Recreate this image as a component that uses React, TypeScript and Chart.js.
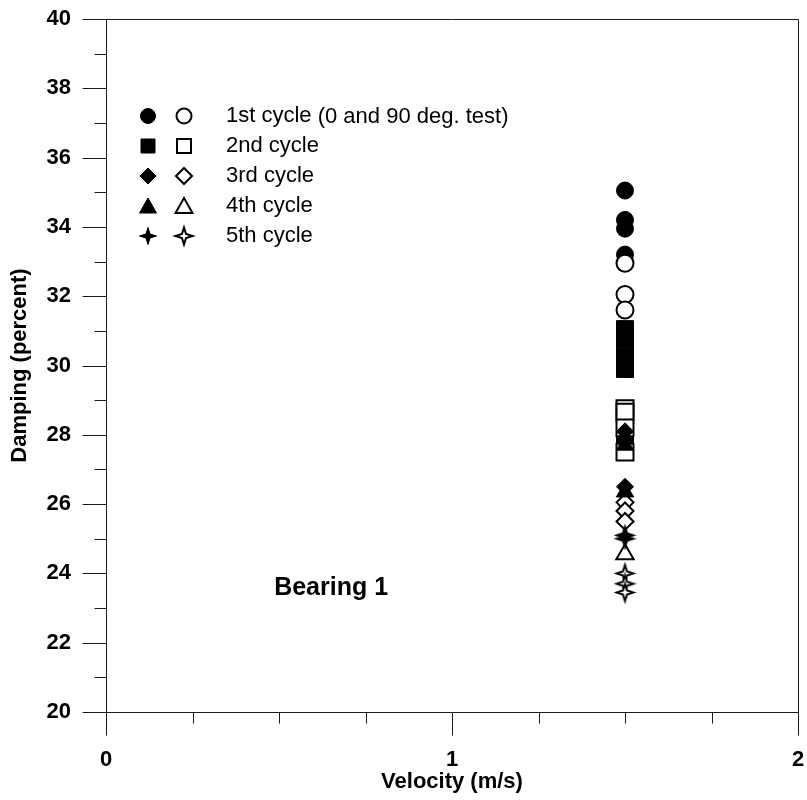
import { useEffect, useRef } from "react";
import { Chart, registerables } from "chart.js";

Chart.register(...registerables);

// All tests were run at a single velocity
const VELOCITY = 1.5;

// Damping (percent) per cycle: filled = 0 deg. test, open = 90 deg. test
const cycle1Filled = [35.05, 34.2, 33.95, 33.2];
const cycle1Open = [32.95, 32.05, 31.6];
const cycle2Filled = [31.05, 30.75, 30.25, 29.9, 28.45, 28.05, 27.8, 27.6];
const cycle2Open = [28.75, 28.65, 28.2, 27.5];
const cycle3Filled = [28.1, 26.5];
const cycle3Open = [26.05, 25.8, 25.5];
const cycle4Filled = [27.7, 26.35];
const cycle4Open = [24.55];
const cycle5Filled = [25.1, 25.0];
const cycle5Open = [24.0, 23.7, 23.45];

const legendLabels = ["1st cycle", "2nd cycle", "3rd cycle", "4th cycle", "5th cycle"];
const legendNote = "(0 and 90 deg. test)";
const bearingLabel = "Bearing 1";
const xTitle = "Velocity (m/s)";
const yTitle = "Damping (percent)";

const FONT = "'Liberation Sans', Arial, Helvetica, sans-serif";
const PLOT_RIGHT_GAP = 9;

type Shape = "circle" | "square" | "diamond" | "triangle" | "star";
const shapes: Shape[] = ["circle", "square", "diamond", "triangle", "star"];

function starPath(ctx: CanvasRenderingContext2D, x: number, y: number, r: number) {
  const k = r * 0.24;
  ctx.beginPath();
  ctx.moveTo(x, y - r);
  ctx.lineTo(x + k, y - k);
  ctx.lineTo(x + r, y);
  ctx.lineTo(x + k, y + k);
  ctx.lineTo(x, y + r);
  ctx.lineTo(x - k, y + k);
  ctx.lineTo(x - r, y);
  ctx.lineTo(x - k, y - k);
  ctx.closePath();
}

function makeStar(r: number, filled: boolean): HTMLCanvasElement {
  const c = document.createElement("canvas");
  const s = Math.ceil(r * 2 + 6);
  c.width = s;
  c.height = s;
  const ctx = c.getContext("2d")!;
  starPath(ctx, s / 2, s / 2, r);
  ctx.fillStyle = filled ? "#000" : "#fff";
  ctx.fill();
  ctx.lineWidth = 2;
  ctx.strokeStyle = "#000";
  ctx.lineJoin = "miter";
  ctx.stroke();
  return c;
}

function drawMarker(
  ctx: CanvasRenderingContext2D,
  shape: Shape,
  x: number,
  y: number,
  filled: boolean
) {
  ctx.save();
  ctx.fillStyle = filled ? "#000" : "#fff";
  ctx.strokeStyle = "#000";
  ctx.lineWidth = filled ? 1 : 2;
  ctx.beginPath();
  if (shape === "circle") {
    ctx.arc(x, y, 7.5, 0, Math.PI * 2);
  } else if (shape === "square") {
    ctx.rect(x - 7, y - 7, 14, 14);
  } else if (shape === "diamond") {
    ctx.moveTo(x, y - 8);
    ctx.lineTo(x + 8, y);
    ctx.lineTo(x, y + 8);
    ctx.lineTo(x - 8, y);
    ctx.closePath();
  } else if (shape === "triangle") {
    ctx.moveTo(x, y - 8);
    ctx.lineTo(x + 8.5, y + 7);
    ctx.lineTo(x - 8.5, y + 7);
    ctx.closePath();
  } else {
    starPath(ctx, x, y, 8.5);
  }
  ctx.fill();
  ctx.stroke();
  ctx.restore();
}

const axisFramePlugin = {
  id: "axisFrame",
  // keep the plot frame flush with the right edge gap
  afterLayout(chart: any) {
    const xs = chart.scales.x;
    const target = chart.width - PLOT_RIGHT_GAP;
    if (Math.abs(xs.right - target) > 0.5) {
      xs.right = target;
      xs.width = target - xs.left;
      chart.chartArea.right = target;
      chart.chartArea.width = target - chart.chartArea.left;
      xs.configure();
    }
  },
  afterDraw(chart: any) {
    const { ctx, chartArea, scales } = chart;
    const { left, right, top, bottom } = chartArea;
    const xs = scales.x;
    const ys = scales.y;
    ctx.save();
    ctx.strokeStyle = "#1a1a1a";
    ctx.lineWidth = 1;
    const px = (v: number) => Math.round(v) + 0.5;
    ctx.beginPath();
    ctx.rect(px(left), px(top), Math.round(right - left), Math.round(bottom - top));
    // y ticks: major every 2, minor every 1
    for (let v = 20; v <= 40; v += 1) {
      const y = px(ys.getPixelForValue(v));
      const len = v % 2 === 0 ? 24 : 12;
      ctx.moveTo(px(left) - len, y);
      ctx.lineTo(px(left), y);
    }
    // x ticks: major every 1, minor every 0.25
    for (let i = 0; i <= 8; i++) {
      const v = i * 0.25;
      const x = px(xs.getPixelForValue(v));
      const len = i % 4 === 0 ? 23 : 11;
      ctx.moveTo(x, px(bottom));
      ctx.lineTo(x, px(bottom) + len);
    }
    ctx.stroke();

    // legend
    const rows = [116, 146, 176, 206, 236];
    ctx.textBaseline = "middle";
    ctx.textAlign = "left";
    ctx.fillStyle = "#000";
    rows.forEach((ry, i) => {
      drawMarker(ctx, shapes[i], 148, ry, true);
      drawMarker(ctx, shapes[i], 184, ry, false);
      ctx.font = `22px ${FONT}`;
      ctx.fillText(legendLabels[i], 226, ry);
      if (i === 0) {
        const w = ctx.measureText(legendLabels[i] + " ").width;
        ctx.font = `22px ${FONT}`;
        ctx.fillText(legendNote, 226 + w, ry + 1);
      }
    });

    // panel label
    ctx.font = `bold 25px ${FONT}`;
    ctx.fillText(bearingLabel, xs.getPixelForValue(0.486), ys.getPixelForValue(23.58));
    ctx.restore();
  },
};

function pts(values: number[]) {
  return values.map((v) => ({ x: VELOCITY, y: v }));
}

function noEdgePadding(scale: any) {
  scale.paddingTop = 0;
  scale.paddingBottom = 0;
  scale.paddingLeft = 0;
  scale.paddingRight = 0;
}

export default function App() {
  const ref = useRef<HTMLCanvasElement | null>(null);

  useEffect(() => {
    if (!ref.current) return;
    const filledStar = makeStar(8.5, true);
    const openStar = makeStar(8.5, false);

    const filled = { backgroundColor: "#000", borderColor: "#000", borderWidth: 1 };
    const open = { backgroundColor: "#fff", borderColor: "#000", borderWidth: 2 };

    const datasets: any[] = [
      { label: "c5 open", data: pts(cycle5Open), pointStyle: openStar, ...open },
      { label: "c5 filled", data: pts(cycle5Filled), pointStyle: filledStar, ...filled },
      { label: "c4 open", data: pts(cycle4Open), pointStyle: "triangle", pointRadius: 10, ...open },
      { label: "c4 filled", data: pts(cycle4Filled), pointStyle: "triangle", pointRadius: 10, ...filled },
      { label: "c3 open", data: pts(cycle3Open), pointStyle: "rectRot", pointRadius: 8.5, ...open },
      { label: "c3 filled", data: pts(cycle3Filled), pointStyle: "rectRot", pointRadius: 8.5, ...filled },
      { label: "c2 open", data: pts(cycle2Open), pointStyle: "rect", pointRadius: 12, ...open },
      { label: "c2 filled", data: pts(cycle2Filled), pointStyle: "rect", pointRadius: 12, ...filled },
      { label: "c1 open", data: pts(cycle1Open), pointStyle: "circle", pointRadius: 8.5, ...open },
      { label: "c1 filled", data: pts(cycle1Filled), pointStyle: "circle", pointRadius: 8.5, ...filled },
    ].map((d) => ({ pointRadius: 9, ...d, showLine: false }));

    const chart = new Chart(ref.current, {
      type: "scatter",
      data: { datasets },
      options: {
        responsive: false,
        animation: false,
        devicePixelRatio: 1,
        layout: { padding: { top: 19, right: PLOT_RIGHT_GAP, left: 0, bottom: 0 } },
        plugins: { legend: { display: false }, tooltip: { enabled: false } },
        scales: {
          x: {
            type: "linear",
            min: 0,
            max: 2,
            grid: { display: false, drawTicks: false },
            border: { display: false },
            ticks: {
              stepSize: 1,
              padding: 35,
              color: "#000",
              font: { family: FONT, size: 22, weight: "bold" },
            },
            title: {
              display: true,
              text: xTitle,
              color: "#000",
              padding: { top: 0, bottom: 5 },
              font: { family: FONT, size: 22, weight: "bold" },
            },
            afterFit(scale: any) {
              scale.height = 88;
              noEdgePadding(scale);
            },
          },
          y: {
            type: "linear",
            min: 20,
            max: 40,
            grid: { display: false, drawTicks: false },
            border: { display: false },
            ticks: {
              stepSize: 2,
              padding: 35,
              color: "#000",
              font: { family: FONT, size: 22, weight: "bold" },
            },
            title: {
              display: true,
              text: yTitle,
              color: "#000",
              padding: { top: 7, bottom: 0 },
              font: { family: FONT, size: 22, weight: "bold" },
            },
            afterFit(scale: any) {
              scale.width = 106;
              noEdgePadding(scale);
            },
          },
        },
      },
      plugins: [axisFramePlugin],
    });
    return () => chart.destroy();
  }, []);

  return (
    <div style={{ position: "absolute", left: 0, top: 0, width: 807, height: 800, background: "#fff" }}>
      <canvas ref={ref} width={807} height={800} />
    </div>
  );
}
